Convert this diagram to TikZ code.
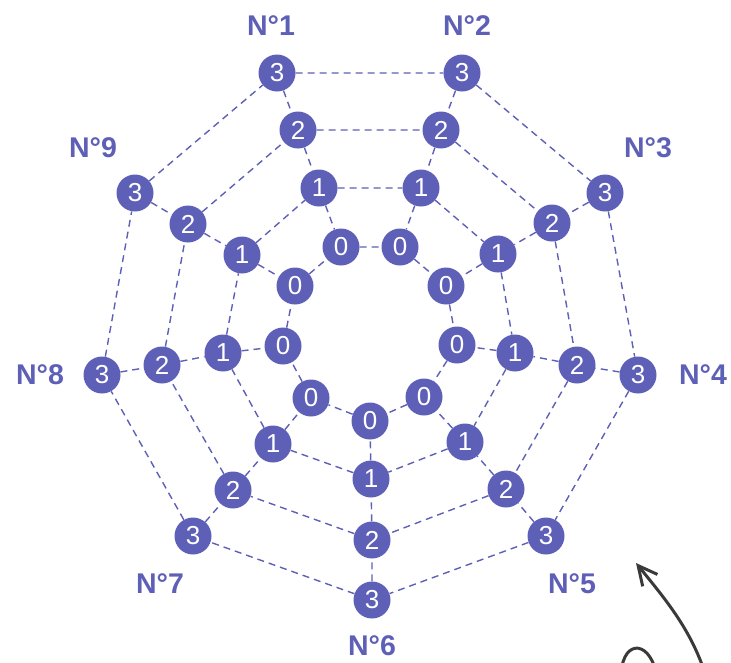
\documentclass[tikz,border=0pt]{standalone}
\usepackage{fontspec}
\setmainfont{Liberation Sans}
\usetikzlibrary{arrows.meta}
\definecolor{spider}{RGB}{94,95,182}
\definecolor{pencil}{RGB}{58,58,58}

\begin{document}
\begin{tikzpicture}[x=1pt, y=-1pt]
            \tikzset{vertex/.style = {shape=circle, fill=spider, text=white, minimum size=37pt, inner sep=0pt, font=\fontsize{26}{26}\selectfont}}
            \tikzset{edge/.style = {draw=spider, line width=1.4pt, dash pattern=on 7pt off 5pt}}
            \tikzset{tag/.style = {text=spider, font=\bfseries\fontsize{28.5}{28.5}\selectfont}}
            \tikzset{pen/.style = {draw=pencil, line width=3pt, line cap=round, line join=round}}

            \useasboundingbox (0,0) rectangle (731,662);

            \node[vertex] (1-3) at (277, 73) {3};
            \node[vertex] (1-2) at (298, 130) {2};
            \node[vertex] (1-1) at (319, 188) {1};
            \node[vertex] (1-0) at (341, 247) {0};

            \node[vertex] (2-3) at (462, 73) {3};
            \node[vertex] (2-2) at (441, 130) {2};
            \node[vertex] (2-1) at (421, 188) {1};
            \node[vertex] (2-0) at (400, 247) {0};

            \node[vertex] (3-3) at (605, 193) {3};
            \node[vertex] (3-2) at (552, 223) {2};
            \node[vertex] (3-1) at (498, 254) {1};
            \node[vertex] (3-0) at (446, 286) {0};

            \node[vertex] (4-3) at (638, 375) {3};
            \node[vertex] (4-2) at (577, 365) {2};
            \node[vertex] (4-1) at (515, 353) {1};
            \node[vertex] (4-0) at (457, 345) {0};

            \node[vertex] (5-3) at (546, 536) {3};
            \node[vertex] (5-2) at (506, 489) {2};
            \node[vertex] (5-1) at (465, 442) {1};
            \node[vertex] (5-0) at (424, 397) {0};

            \node[vertex] (6-3) at (372, 600) {3};
            \node[vertex] (6-2) at (372, 540) {2};
            \node[vertex] (6-1) at (371, 479) {1};
            \node[vertex] (6-0) at (370, 421) {0};

            \node[vertex] (7-3) at (193, 536) {3};
            \node[vertex] (7-2) at (233, 490) {2};
            \node[vertex] (7-1) at (273, 444) {1};
            \node[vertex] (7-0) at (311, 398) {0};

            \node[vertex] (8-3) at (102, 375) {3};
            \node[vertex] (8-2) at (162, 365) {2};
            \node[vertex] (8-1) at (223, 353) {1};
            \node[vertex] (8-0) at (283, 346) {0};

            \node[vertex] (9-3) at (135, 193) {3};
            \node[vertex] (9-2) at (188, 224) {2};
            \node[vertex] (9-1) at (242, 255) {1};
            \node[vertex] (9-0) at (295, 286) {0};

            \node[tag] (n1) at (271, 26) {N°1};
            \node[tag] (n2) at (467, 26) {N°2};
            \node[tag] (n3) at (648, 148) {N°3};
            \node[tag] (n4) at (703, 375) {N°4};
            \node[tag] (n5) at (572, 584) {N°5};
            \node[tag] (n6) at (372, 646) {N°6};
            \node[tag] (n7) at (160, 584) {N°7};
            \node[tag] (n8) at (40, 375) {N°8};
            \node[tag] (n9) at (93, 148) {N°9};

            \draw[edge] (1-3) -- (1-2) -- (1-1) -- (1-0);
            \draw[edge] (2-3) -- (2-2) -- (2-1) -- (2-0);
            \draw[edge] (3-3) -- (3-2) -- (3-1) -- (3-0);
            \draw[edge] (4-3) -- (4-2) -- (4-1) -- (4-0);
            \draw[edge] (5-3) -- (5-2) -- (5-1) -- (5-0);
            \draw[edge] (6-3) -- (6-2) -- (6-1) -- (6-0);
            \draw[edge] (7-3) -- (7-2) -- (7-1) -- (7-0);
            \draw[edge] (8-3) -- (8-2) -- (8-1) -- (8-0);
            \draw[edge] (9-3) -- (9-2) -- (9-1) -- (9-0);

            \draw[edge] (1-3) -- (2-3) -- (3-3) -- (4-3) -- (5-3) -- (6-3) -- (7-3) -- (8-3) -- (9-3) -- (1-3);
            \draw[edge] (1-2) -- (2-2) -- (3-2) -- (4-2) -- (5-2) -- (6-2) -- (7-2) -- (8-2) -- (9-2) -- (1-2);
            \draw[edge] (1-1) -- (2-1) -- (3-1) -- (4-1) -- (5-1) -- (6-1) -- (7-1) -- (8-1) -- (9-1) -- (1-1);
            \draw[edge] (1-0) -- (2-0) -- (3-0) -- (4-0) -- (5-0) -- (6-0) -- (7-0) -- (8-0) -- (9-0) -- (1-0);

            % hand drawn arrow
            \coordinate (tail) at (712, 700);
            \coordinate (tip) at (636, 563);
            \draw[pen, -{Straight Barb[length=19pt, width=19pt]}] (tail) .. controls (700, 640) and (670, 605) .. (tip);
            \draw[pen] (621, 680) .. controls (620, 640) and (648, 638) .. (656, 672);
        \end{tikzpicture}
\end{document}
